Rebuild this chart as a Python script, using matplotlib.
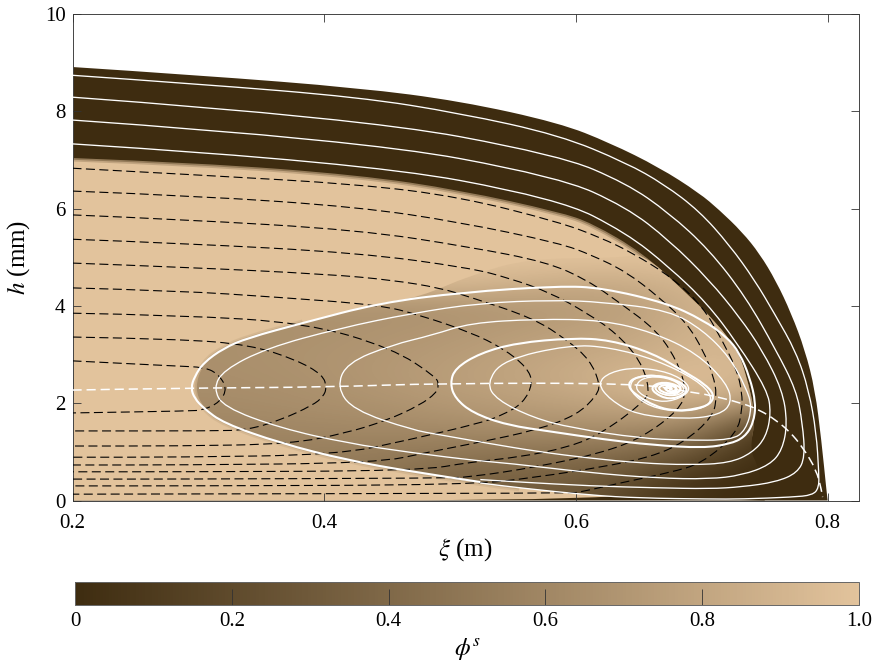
"""
Basal debris flow on a slope: solid fraction field with white particle paths
and black dashed lines, read off the published figure.
"""

import matplotlib

matplotlib.use("Agg")
import matplotlib.pyplot as plt
from matplotlib.colors import LinearSegmentedColormap
from matplotlib.patches import PathPatch
from matplotlib.path import Path

plt.rcParams["font.family"] = ["Liberation Serif", "DejaVu Serif"]
plt.rcParams["mathtext.fontset"] = "stix"

x_ticks = [0.2, 0.4, 0.6, 0.8]
y_ticks = [0, 2, 4, 6, 8, 10]
cbar_ticks = [0, 0.2, 0.4, 0.6, 0.8, 1.0]
cbar_labels = ["0", "0.2", "0.4", "0.6", "0.8", "1.0"]

# free surface and edge of the dark upper layer, (xi, h)
surface = [(.200, 8.91), (.301, 8.74), (.428, 8.48), (.508, 8.21), (.587, 7.76), (.627, 7.35),
           (.666, 6.85), (.698, 6.32), (.714, 5.97), (.732, 5.52), (.746, 5.07), (.759, 4.51),
           (.771, 3.85), (.782, 3.09), (.790, 2.27), (.795, 1.24), (.799, .22), (.800, 0)]
layer_edge = [(.200, 7.04), (.301, 6.94), (.428, 6.69), (.508, 6.38), (.587, 5.93), (.613, 5.70),
              (.653, 5.09), (.685, 4.33), (.712, 3.65), (.728, 3.09), (.735, 2.62), (.743, 1.72),
              (.738, 1.04), (.728, .77), (.698, .42), (.651, 0)]
core_edge = [(.750, 0), (.651, .05), (.611, .11), (.555, .26), (.524, .36), (.470, .59), (.418, .83),
             (.365, 1.18), (.320, 1.59), (.304, 1.90), (.297, 2.31), (.304, 2.83), (.320, 3.13),
             (.339, 3.34), (.383, 3.65), (.444, 4.06), (.476, 4.18), (.516, 4.63), (.563, 4.98),
             (.635, 4.98), (.653, 5.09), (.685, 4.33), (.712, 3.65), (.728, 3.09), (.735, 2.62),
             (.743, 1.72), (.738, 1.04), (.745, .70)]

# solid fraction inside the recirculation zone
grid_xi = [.30, .35, .40, .45, .50, .55, .60, .65, .70, .75, .80]
grid_h = [0, .5, 1, 1.5, 2, 2.5, 3, 3.5, 4, 4.5, 5, 5.5]
grid_phi = [
    [.50, .50, .48, .42, .36, .30, .28, .12, .02, 0, 0],
    [.52, .52, .50, .46, .40, .36, .34, .22, .04, 0, 0],
    [.56, .56, .55, .53, .50, .48, .46, .42, .24, 0, 0],
    [.60, .60, .61, .62, .63, .65, .65, .65, .55, .05, 0],
    [.63, .64, .66, .68, .72, .75, .78, .82, .86, .70, .40],
    [.65, .66, .68, .72, .76, .80, .86, .93, .98, .90, .60],
    [.66, .67, .69, .71, .74, .78, .82, .86, .92, .90, .80],
    [.66, .66, .67, .69, .71, .74, .77, .81, .90, .90, .90],
    [.70, .70, .68, .67, .68, .71, .73, .77, .88, .90, .90],
    [1, 1, .98, .95, .95, .90, .85, .85, .93, 1, 1],
    [1, 1, 1, 1, 1, 1, 1, 1, 1, 1, 1],
    [1, 1, 1, 1, 1, 1, 1, 1, 1, 1, 1],
]

# black dashed lines
dash_1 = [(.200, 2.87), (.285, 2.76), (.304, 2.74), (.315, 2.62), (.323, 2.31), (.317, 2.02),
          (.304, 1.86), (.293, 1.84), (.200, 1.80)]
dash_2 = [(.200, 3.36), (.285, 3.32), (.341, 3.20), (.378, 2.89), (.399, 2.58), (.402, 2.31),
          (.399, 2.13), (.391, 1.96), (.365, 1.65), (.339, 1.45), (.312, 1.43), (.200, 1.43)]
dash_3 = [(.200, 3.85), (.285, 3.81), (.386, 3.65), (.454, 3.13), (.489, 2.54), (.491, 2.37),
          (.489, 2.21), (.476, 1.96), (.450, 1.65), (.418, 1.39), (.373, 1.16), (.285, 1.12),
          (.200, 1.12)]
dash_4 = [(.200, 4.37), (.285, 4.31), (.362, 4.18), (.444, 4.02), (.476, 3.81), (.516, 3.46),
          (.542, 3.13), (.561, 2.74), (.566, 2.41), (.558, 2.00), (.542, 1.76), (.524, 1.59),
          (.466, 1.24), (.411, .94), (.285, .89), (.200, .89)]
dash_5 = [(.200, 4.88), (.285, 4.80), (.404, 4.65), (.454, 4.53), (.492, 4.37), (.516, 4.18),
          (.566, 3.75), (.593, 3.30), (.611, 2.89), (.619, 2.41), (.617, 2.17), (.601, 1.76),
          (.569, 1.45), (.524, 1.20), (.484, 1.00), (.442, .77), (.285, .73), (.200, .73)]
dash_6 = [(.200, 5.37), (.285, 5.29), (.428, 5.09), (.516, 4.78), (.547, 4.57), (.579, 4.28),
          (.609, 3.85), (.632, 3.44), (.651, 2.89), (.659, 2.27), (.653, 2.00), (.621, 1.39),
          (.595, 1.10), (.555, .89), (.516, .79), (.476, .61), (.285, .59), (.200, .59)]
dash_7 = [(.200, 5.87), (.285, 5.78), (.428, 5.56), (.516, 5.21), (.577, 4.90), (.609, 4.53),
          (.635, 4.06), (.664, 3.50), (.680, 2.89), (.688, 2.27), (.682, 1.86), (.653, 1.30),
          (.621, .98), (.569, .69), (.516, .48), (.492, .46), (.285, .44), (.200, .44)]
dash_8 = [(.200, 6.36), (.301, 6.26), (.428, 6.03), (.508, 5.72), (.587, 5.29), (.613, 5.04),
          (.640, 4.70), (.666, 4.18), (.688, 3.65), (.701, 3.09), (.709, 2.58), (.712, 2.17),
          (.709, 1.72), (.685, 1.18), (.659, .89), (.621, .69), (.569, .48), (.516, .32),
          (.285, .30), (.200, .30)]
dash_9 = [(.200, 6.83), (.301, 6.69), (.428, 6.50), (.508, 6.24), (.587, 5.72), (.619, 5.41),
          (.645, 5.09), (.677, 4.57), (.701, 3.98), (.716, 3.30), (.728, 2.68), (.732, 2.21),
          (.732, 1.86), (.728, 1.39), (.701, .77), (.674, .57), (.635, .36), (.603, .17),
          (.595, .15), (.200, .13)]
black_dashes = [dash_1, dash_2, dash_3, dash_4, dash_5, dash_6, dash_7, dash_8, dash_9]

# white dashed line through the centre of the zone
centre_line = [(.200, 2.27), (.285, 2.31), (.402, 2.33), (.492, 2.41), (.651, 2.41), (.690, 2.23),
               (.706, 2.17), (.732, 2.00), (.746, 1.86), (.759, 1.65), (.770, 1.41), (.780, 1.10),
               (.791, .63), (.795, .22), (.796, .07)]

# white particle paths
path_1 = [(.200, 8.74), (.301, 8.56), (.428, 8.29), (.508, 7.96), (.587, 7.51), (.640, 6.94),
          (.670, 6.50), (.698, 5.95), (.722, 5.25), (.742, 4.53), (.758, 3.83), (.775, 3.05),
          (.785, 2.27), (.791, 1.39), (.793, .57), (.793, .26), (.788, .11), (.772, .07),
          (.732, .03), (.706, .03), (.651, .05), (.611, .11), (.555, .26), (.524, .36)]
path_2 = [(.200, 8.29), (.428, 7.86), (.587, 7.10), (.640, 6.52), (.674, 5.91), (.706, 5.15),
          (.735, 4.18), (.759, 3.09), (.775, 2.27), (.780, 1.59), (.782, .89), (.776, .57),
          (.759, .38), (.732, .28), (.706, .24), (.664, .26), (.611, .30), (.555, .38),
          (.524, .43)]
path_3 = [(.200, 7.82), (.428, 7.41), (.587, 6.65), (.640, 6.03), (.674, 5.35), (.706, 4.53),
          (.730, 3.77), (.748, 3.09), (.764, 2.27), (.768, 1.59), (.764, 1.04), (.754, .73),
          (.732, .52), (.706, .44), (.664, .46), (.611, .57), (.545, .77), (.524, .81),
          (.470, .98), (.418, 1.18), (.365, 1.49), (.320, 1.92), (.312, 2.31), (.320, 2.68),
          (.354, 3.13), (.412, 3.54), (.470, 3.85), (.524, 4.06), (.582, 4.12), (.621, 4.08),
          (.674, 3.91), (.701, 3.50), (.722, 2.95), (.735, 2.33), (.740, 1.92), (.735, 1.45),
          (.724, 1.24), (.685, 1.24), (.651, 1.28), (.597, 1.49), (.566, 1.70), (.537, 2.07),
          (.529, 2.41), (.542, 2.89), (.595, 3.20), (.627, 3.15), (.664, 2.89), (.696, 2.48),
          (.709, 2.13), (.703, 1.90), (.682, 1.82), (.659, 1.92), (.643, 2.23), (.644, 2.48),
          (.654, 2.58), (.670, 2.56), (.684, 2.39), (.687, 2.23), (.676, 2.13), (.664, 2.23),
          (.662, 2.37), (.673, 2.41), (.681, 2.29), (.674, 2.23), (.670, 2.31)]
path_4 = [(.200, 7.33), (.428, 6.96), (.587, 6.20), (.640, 5.50), (.674, 4.80), (.704, 4.06),
          (.728, 3.24), (.752, 2.27), (.755, 1.80), (.751, 1.30), (.740, .98), (.722, .77),
          (.690, .73), (.651, .77), (.611, .87), (.571, 1.00), (.529, 1.18), (.492, 1.35),
          (.470, 1.45), (.423, 1.86), (.410, 2.33), (.418, 2.83), (.454, 3.20), (.486, 3.40),
          (.516, 3.65), (.569, 3.73), (.621, 3.71), (.661, 3.46), (.696, 3.03), (.720, 2.41),
          (.724, 2.00), (.714, 1.76), (.688, 1.67), (.648, 1.76), (.627, 2.07), (.617, 2.41),
          (.627, 2.64), (.648, 2.74), (.674, 2.64), (.690, 2.39), (.689, 2.19), (.674, 2.02),
          (.659, 2.07), (.647, 2.27), (.650, 2.48), (.662, 2.56), (.678, 2.48), (.685, 2.31),
          (.679, 2.15), (.666, 2.19), (.662, 2.35), (.672, 2.44), (.681, 2.33), (.678, 2.23),
          (.671, 2.25), (.673, 2.35)]
thin_paths = [path_1, path_2, path_3, path_4]

# the two outer paths run together here, so the line looks heavier
outer_path = [(.524, .38), (.470, .59), (.418, .83), (.365, 1.18), (.320, 1.59), (.304, 1.90),
              (.297, 2.10), (.294, 2.31), (.297, 2.55), (.304, 2.83), (.320, 3.13), (.339, 3.34),
              (.383, 3.65), (.444, 4.06), (.510, 4.28), (.587, 4.41), (.621, 4.37), (.672, 4.06),
              (.701, 3.71), (.720, 3.36), (.730, 3.03), (.738, 2.54), (.743, 2.00), (.741, 1.59),
              (.734, 1.30), (.722, 1.16), (.701, 1.08), (.661, 1.14), (.621, 1.26), (.582, 1.41),
              (.545, 1.55), (.518, 1.80), (.504, 2.10), (.500, 2.41), (.504, 2.72), (.524, 3.03),
              (.553, 3.24), (.597, 3.34), (.627, 3.30), (.661, 3.03), (.688, 2.62), (.702, 2.40),
              (.710, 2.18), (.707, 1.98), (.695, 1.88), (.680, 1.84), (.664, 1.92), (.645, 2.21),
              (.641, 2.41), (.648, 2.54), (.664, 2.58), (.680, 2.48), (.689, 2.31), (.686, 2.17),
              (.674, 2.07), (.662, 2.21), (.660, 2.35), (.669, 2.44), (.681, 2.37), (.684, 2.27),
              (.677, 2.18), (.668, 2.23), (.665, 2.33), (.672, 2.39), (.680, 2.33), (.680, 2.24),
              (.674, 2.23), (.670, 2.31), (.674, 2.35), (.677, 2.29), (.674, 2.29)]


def smooth_path(points):
    """Quadratic curve with the read points as control points."""
    verts = [points[0]]
    codes = [Path.MOVETO]
    for p, q in zip(points[1:-1], points[2:]):
        verts += [p, ((p[0] + q[0]) / 2, (p[1] + q[1]) / 2)]
        codes += [Path.CURVE3, Path.CURVE3]
    verts.append(points[-1])
    codes.append(Path.LINETO)
    return Path(verts, codes)


def draw_curve(ax, points, **kw):
    ax.add_patch(PathPatch(smooth_path(points), fill=False, capstyle="butt", **kw))


cmap = LinearSegmentedColormap.from_list("phi", ["#3e2c10", "#e2c39c"])
dark = cmap(0.0)
light = cmap(1.0)
brown = cmap(0.62)

fig = plt.figure(figsize=(8.74, 6.66), dpi=100)
ax = fig.add_axes([72.5 / 874, 1 - 500.5 / 666, 786 / 874, 486.5 / 666])
cax = fig.add_axes([75 / 874, 1 - 605 / 666, 784 / 874, 23 / 666])

# dark layer, light layer, then the zone with its gradient
corner_l = (.2, 0)
ax.add_patch(PathPatch(smooth_path(surface + [(.8, 0), corner_l, corner_l, surface[0]]),
                       fc=dark, ec="none", zorder=1))
ax.add_patch(PathPatch(smooth_path(layer_edge + [corner_l, corner_l, layer_edge[0]]),
                       fc=light, ec="none", zorder=2))
for lw, alpha in [(5, 0.2), (2.5, 0.35)]:
    draw_curve(ax, layer_edge[:13], ec=dark, lw=lw, alpha=alpha, zorder=2.1)
    draw_curve(ax, core_edge[3:15], ec=brown, lw=lw, alpha=alpha, zorder=2.1)

im = ax.imshow(grid_phi, origin="lower", aspect="auto", cmap=cmap, vmin=0, vmax=1,
               interpolation="bicubic",
               extent=(grid_xi[0] - .025, grid_xi[-1] + .025, grid_h[0] - .25, grid_h[-1] + .25),
               zorder=2.2)
clip = PathPatch(smooth_path(core_edge + [core_edge[0]]), transform=ax.transData)
im.set_clip_path(clip)

for line in black_dashes:
    draw_curve(ax, line, ec="black", lw=0.8, linestyle=(0, (8.1, 4)), zorder=3)
for line in thin_paths:
    draw_curve(ax, line, ec="white", lw=0.95, zorder=4)
draw_curve(ax, outer_path, ec="white", lw=1.5, zorder=4)
draw_curve(ax, centre_line, ec="white", lw=1.1, linestyle=(0, (6, 3.2)), zorder=5)

ax.set_xlim(0.2, 0.8245)
ax.set_ylim(0, 10)
ax.set_xticks(x_ticks)
ax.set_xticklabels(["0.2", "0.4", "0.6", "0.8"])
ax.set_yticks(y_ticks)
ax.set_axisbelow(False)
ax.tick_params(direction="in", length=5.8, width=0.6, color="#333333", labelsize=15,
               top=True, right=True, pad=5)
ax.tick_params(axis="x", pad=10)
for s in ax.spines.values():
    s.set_linewidth(0.7)
    s.set_color("#444444")
ax.set_xlabel(r"$\xi$ (m)", fontsize=18, labelpad=2)
ax.set_ylabel(r"$h$ (mm)", fontsize=18, labelpad=9)

cb = fig.colorbar(im, cax=cax, orientation="horizontal", ticks=cbar_ticks)
cb.ax.set_xticklabels(cbar_labels)
cb.ax.tick_params(direction="in", length=11.5, width=0.6, color="#333333", labelsize=15, pad=5)
cb.outline.set_linewidth(0.7)
cb.outline.set_edgecolor("#666666")
cb.set_label(r"$\phi^s$", fontsize=18, labelpad=4)

fig.savefig("out.png", dpi=100)
plt.close(fig)
